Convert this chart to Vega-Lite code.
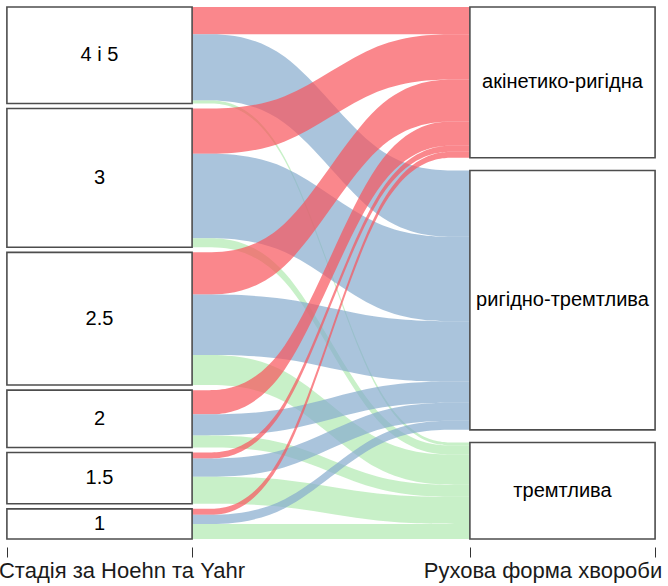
{
  "$schema": "https://vega.github.io/schema/vega-lite/v6.json",
  "width": 668,
  "height": 532,
  "autosize": "none",
  "padding": {"left": 0, "right": 0, "top": 7, "bottom": 47},
  "background": "white",
  "config": {"view": {"stroke": null}, "font": "Liberation Sans"},
  "resolve": {"axis": {"x": "independent", "y": "independent"}},
  "data": {
    "values": [
      {"stage": "4 і 5", "form": "акінетико-ригідна", "n": 9},
      {"stage": "4 і 5", "form": "ригідно-тремтлива", "n": 22},
      {"stage": "4 і 5", "form": "тремтлива", "n": 1},
      {"stage": "3", "form": "акінетико-ригідна", "n": 15},
      {"stage": "3", "form": "ригідно-тремтлива", "n": 28},
      {"stage": "3", "form": "тремтлива", "n": 3},
      {"stage": "2.5", "form": "акінетико-ригідна", "n": 14},
      {"stage": "2.5", "form": "ригідно-тремтлива", "n": 20},
      {"stage": "2.5", "form": "тремтлива", "n": 10},
      {"stage": "2", "form": "акінетико-ригідна", "n": 8},
      {"stage": "2", "form": "ригідно-тремтлива", "n": 7},
      {"stage": "2", "form": "тремтлива", "n": 4},
      {"stage": "1.5", "form": "акінетико-ригідна", "n": 2},
      {"stage": "1.5", "form": "ригідно-тремтлива", "n": 6},
      {"stage": "1.5", "form": "тремтлива", "n": 9},
      {"stage": "1", "form": "акінетико-ригідна", "n": 2},
      {"stage": "1", "form": "ригідно-тремтлива", "n": 3},
      {"stage": "1", "form": "тремтлива", "n": 5}
    ]
  },
  "transform": [
    {"window": [{"op": "dense_rank", "as": "rkL"}], "sort": [{"field": "stage", "order": "descending"}]},
    {"window": [{"op": "sum", "field": "n", "as": "cumL"}], "sort": [{"field": "stage", "order": "descending"}, {"field": "form", "order": "ascending"}]},
    {"window": [{"op": "dense_rank", "as": "rkR"}], "sort": [{"field": "form", "order": "ascending"}]},
    {"window": [{"op": "sum", "field": "n", "as": "cumR"}], "sort": [{"field": "form", "order": "ascending"}, {"field": "stage", "order": "descending"}]},
    {"calculate": "datum.cumL - datum.n + (datum.rkL - 1) * 1.68", "as": "yL0"},
    {"calculate": "datum.yL0 + datum.n", "as": "yL1"},
    {"calculate": "datum.cumR - datum.n + (datum.rkR - 1) * 4.2", "as": "yR0"},
    {"calculate": "datum.yR0 + datum.n", "as": "yR1"}
  ],
  "layer": [
    {
      "transform": [
        {"fold": ["yL0", "yL1", "yR0", "yR1"], "as": ["pt", "pv"]},
        {"calculate": "datum.pt == 'yL0' ? 1.2 : datum.pt == 'yL1' ? 1.4 : datum.pt == 'yR0' ? 1.6 : 1.8", "as": "px"},
        {"calculate": "(datum.pt == 'yL0' || datum.pt == 'yL1') ? datum.yL0 : datum.yR0", "as": "top"},
        {"calculate": "(datum.pt == 'yL0' || datum.pt == 'yL1') ? datum.yL1 : datum.yR1", "as": "bot"}
      ],
      "mark": {"type": "area", "interpolate": "basis", "opacity": 0.7},
      "encoding": {
        "x": {
          "field": "px", "type": "quantitative",
          "scale": {"domain": [0.7851, 2.2279], "nice": false, "zero": false},
          "axis": {
            "orient": "bottom",
            "values": [0.8, 1, 1.2, 1.8, 2, 2.2],
            "domain": false, "grid": false, "title": null,
            "offset": 8, "tickSize": 10, "tickColor": "#333333", "tickWidth": 1,
            "tickOpacity": {"condition": {"test": "datum.value == 1 || datum.value == 2", "value": 0}, "value": 1},
            "labelExpr": "datum.value == 1 ? 'Стадія за Hoehn та Yahr' : (datum.value == 2 ? 'Рухова форма хвороби' : '')",
            "labelFont": "Liberation Sans", "labelFontSize": 22, "labelColor": "#1a1a1a",
            "labelPadding": 3, "labelLimit": 0,
            "labelOffset": {"condition": {"test": "datum.value == 1", "value": 22}, "value": -20},
            "labelOverlap": false, "labelBound": false, "labelFlush": false
          }
        },
        "y": {
          "field": "top", "type": "quantitative", "stack": null,
          "scale": {"domain": [0, 176.4], "reverse": true, "nice": false, "zero": false},
          "axis": null
        },
        "y2": {"field": "bot"},
        "color": {
          "field": "form", "type": "nominal",
          "scale": {"domain": ["акінетико-ригідна", "ригідно-тремтлива", "тремтлива"], "range": ["#F8545B", "#86ABCD", "#B0E9B0"]},
          "legend": null
        },
        "detail": {"field": "stage"}
      }
    },
    {
      "transform": [
        {"aggregate": [{"op": "min", "field": "yL0", "as": "lo"}, {"op": "max", "field": "yL1", "as": "hi"}], "groupby": ["stage"]},
        {"calculate": "(datum.lo + datum.hi) / 2", "as": "mid"}
      ],
      "layer": [
        {
          "mark": {"type": "rect", "fill": "white", "stroke": "#4d4d4d", "strokeWidth": 1.6},
          "encoding": {
            "x": {"datum": 0.8, "type": "quantitative", "axis": null},
            "x2": {"datum": 1.2},
            "y": {"field": "lo", "type": "quantitative", "axis": null},
            "y2": {"field": "hi"}
          }
        },
        {
          "mark": {"type": "text", "fontSize": 20, "color": "black", "font": "Liberation Sans"},
          "encoding": {
            "x": {"datum": 1, "type": "quantitative", "axis": null},
            "y": {"field": "mid", "type": "quantitative", "axis": null},
            "text": {"field": "stage"}
          }
        }
      ]
    },
    {
      "transform": [
        {"aggregate": [{"op": "min", "field": "yR0", "as": "lo"}, {"op": "max", "field": "yR1", "as": "hi"}], "groupby": ["form"]},
        {"calculate": "(datum.lo + datum.hi) / 2", "as": "mid"}
      ],
      "layer": [
        {
          "mark": {"type": "rect", "fill": "white", "stroke": "#4d4d4d", "strokeWidth": 1.6},
          "encoding": {
            "x": {"datum": 1.8, "type": "quantitative", "axis": null},
            "x2": {"datum": 2.2},
            "y": {"field": "lo", "type": "quantitative", "axis": null},
            "y2": {"field": "hi"}
          }
        },
        {
          "mark": {"type": "text", "fontSize": 20, "color": "black", "font": "Liberation Sans"},
          "encoding": {
            "x": {"datum": 2, "type": "quantitative", "axis": null},
            "y": {"field": "mid", "type": "quantitative", "axis": null},
            "text": {"field": "form"}
          }
        }
      ]
    }
  ]
}
